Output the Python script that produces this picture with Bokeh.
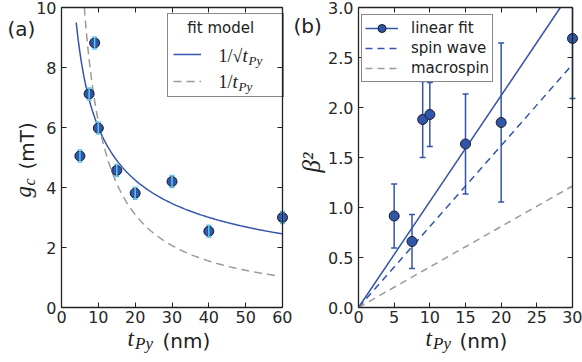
import math
import numpy as np
from bokeh.plotting import figure
from bokeh.layouts import row
from bokeh.models import (ColumnDataSource, Label, Legend, LegendItem, LinearAxis,
                          FixedTicker, NumeralTickFormatter, Range1d)
from bokeh.embed import file_html
from bokeh.resources import INLINE

# ---------------- data ----------------
# panel (a): critical field g_c (mT) vs Py thickness (nm)
T_A = [5, 7.5, 9, 10, 15, 20, 30, 40, 60]
GC = [5.05, 7.12, 8.82, 5.98, 4.57, 3.81, 4.20, 2.54, 3.00]
GC_ERR = [0.2, 0.2, 0.2, 0.2, 0.2, 0.2, 0.2, 0.2, 0.2]
# fit models: g = A/sqrt(t) and g = B/t
A_SQRT = 19.0
B_INV = 62.0
T_SQRT_RANGE = [4.0, 60.0]
T_INV_RANGE = [6.2, 58.0]

# panel (b): beta^2 vs Py thickness (nm)
T_B = [5, 7.5, 9, 10, 15, 20, 30]
BETA2 = [0.915, 0.66, 1.88, 1.93, 1.635, 1.85, 2.69]
BETA2_ERR = [0.32, 0.27, 0.38, 0.32, 0.50, 0.795, 0.60]
# straight lines through the origin: slopes
SLOPE_FIT = 0.106
SLOPE_SPINWAVE = 0.081
SLOPE_MACROSPIN = 0.0405
T_LINE_END = 30.0

A_XLIM, A_YLIM = (0, 60), (0, 10)
B_XLIM, B_YLIM = (0, 30), (0, 3)
A_X_TICKS = [0, 10, 20, 30, 40, 50, 60]
A_Y_TICKS = [0, 2, 4, 6, 8, 10]
B_X_TICKS = [0, 5, 10, 15, 20, 25, 30]
B_Y_TICKS = [0, 0.5, 1.0, 1.5, 2.0, 2.5, 3.0]

# ---------------- styling / layout ----------------
BLUE = "#3355aa"
MARK = "#2f56a8"
EDGE = "#1a1a2a"
CYAN = "#5cc8f0"
GREY = "#9a9a9a"
INK = "#222222"
FIG_H = 360
FIG_W_A, OFF_A, BOX_A = 292, 0, (61, 282, 7, 307)      # page px: left, right, top, bottom
FIG_W_B, OFF_B, BOX_B = 290, 292, (358, 572, 7, 307)
BASE_K = 0.35  # baseline correction (em)


class Mapper:
    """page pixel -> data coordinates for a figure whose frame fills the canvas"""
    def __init__(self, xlim, ylim, box, off, w, h):
        l, r, t, b = box
        self.sx = (xlim[1] - xlim[0]) / (r - l)
        self.sy = (ylim[1] - ylim[0]) / (b - t)
        self.l, self.b, self.xlim, self.ylim = l, b, xlim, ylim
        self.xr = (xlim[0] - (l - off) * self.sx, xlim[1] + (off + w - r) * self.sx)
        self.yr = (ylim[0] - (h - b) * self.sy, ylim[1] + t * self.sy)

    def x(self, px):
        return self.xlim[0] + (px - self.l) * self.sx

    def y(self, py):
        return self.ylim[0] + (self.b - py) * self.sy


def make_fig(w, m, xt, yt):
    p = figure(width=w, height=FIG_H, x_range=Range1d(*m.xr), y_range=Range1d(*m.yr),
               output_backend="svg", toolbar_location=None,
               x_axis_location=None, y_axis_location=None,
               min_border_left=0, min_border_right=0, min_border_top=0, min_border_bottom=0)
    p.xgrid.visible = False
    p.ygrid.visible = False
    p.outline_line_color = None
    p.background_fill_color = "white"
    p.border_fill_color = "white"
    specs = [("below", xt, m.ylim[0], m.xlim, True), ("above", xt, m.ylim[1], m.xlim, False),
             ("left", yt, m.xlim[0], m.ylim, True), ("right", yt, m.xlim[1], m.ylim, False)]
    axes = {}
    for loc, ticks, fixed, bounds, show in specs:
        ax = LinearAxis(ticker=FixedTicker(ticks=ticks), fixed_location=fixed, bounds=bounds,
                        major_tick_in=5, major_tick_out=0, minor_tick_line_color=None,
                        axis_line_color=INK, axis_line_width=1.3,
                        major_tick_line_color=INK, major_tick_line_width=1)
        if show:
            ax.major_label_text_font = "DejaVu Sans"
            ax.major_label_text_font_size = "16px"
            ax.major_label_text_color = "#262626"
            ax.major_label_standoff = 3 if loc == "below" else 5
        else:
            ax.major_label_text_color = None
            ax.major_label_standoff = 0
        p.add_layout(ax, loc)
        axes[loc] = ax
    return p, axes


def lab(p, m, px, py, text, size, font="DejaVu Sans", style="normal", angle=0):
    """place text with its baseline start at page pixel (px, py)"""
    if angle == 0:
        py = py - BASE_K * size
    else:
        px = px - BASE_K * size
    p.add_layout(Label(x=m.x(px), y=m.y(py), text=text, text_font=font,
                       text_font_size=f"{size}px", text_font_style=style, text_color=INK,
                       text_align="left", text_baseline="alphabetic", angle=angle,
                       angle_units="deg", level="overlay"))


NB = "\u00a0"
SERIF = "Liberation Serif"

# ================= panel (a) =================
ma = Mapper(A_XLIM, A_YLIM, BOX_A, OFF_A, FIG_W_A, FIG_H)
pa, axa = make_fig(FIG_W_A, ma, A_X_TICKS, A_Y_TICKS)

ts = np.linspace(T_SQRT_RANGE[0], T_SQRT_RANGE[1], 300)
ti = np.linspace(T_INV_RANGE[0], T_INV_RANGE[1], 300)
l_sqrt = pa.line(ts, A_SQRT / np.sqrt(ts), line_color=BLUE, line_width=1.5)
l_inv = pa.line(ti, B_INV / ti, line_color=GREY, line_width=1.5, line_dash="8 5")

src_a = ColumnDataSource(dict(x=T_A, y=GC,
                              lo=[g - e for g, e in zip(GC, GC_ERR)],
                              hi=[g + e for g, e in zip(GC, GC_ERR)]))
pa.scatter("x", "y", source=src_a, size=10, fill_color=MARK, line_color=EDGE, line_width=1)
pa.segment(x0="x", y0="lo", x1="x", y1="hi", source=src_a, line_color=CYAN, line_width=1.5)
pa.scatter("x", "lo", source=src_a, marker="dash", size=5, line_color=CYAN, line_width=1.5)
pa.scatter("x", "hi", source=src_a, marker="dash", size=5, line_color=CYAN, line_width=1.5)

LEG_A_TOP, LEG_A_H = 13.3, 84
leg_a = Legend(items=[LegendItem(label="1/√t_Py", renderers=[l_sqrt]),
                      LegendItem(label="1/t_Py", renderers=[l_inv])],
               title=NB * 3 + "fit model",
               location=(167 - OFF_A, FIG_H - LEG_A_TOP - LEG_A_H),
               padding=5, spacing=7, glyph_width=28, glyph_height=20, label_height=20,
               label_standoff=18, title_standoff=7, margin=0,
               label_text_font="DejaVu Sans", label_text_font_size="16px",
               label_text_color=None,
               title_text_font="DejaVu Sans", title_text_font_size="15px",
               title_text_font_style="normal", title_text_color=INK,
               border_line_color="#111111", border_line_width=1,
               background_fill_color="white", background_fill_alpha=0.0)
pa.add_layout(leg_a)

# legend labels in math style
lab(pa, ma, 218, 62, "1/√", 18, SERIF)
lab(pa, ma, 242, 62, "t", 19, SERIF, "italic")
lab(pa, ma, 248, 65, "Py", 13, SERIF, "italic")
lab(pa, ma, 218, 88, "1/", 18, SERIF)
lab(pa, ma, 232, 88, "t", 19, SERIF, "italic")
lab(pa, ma, 238, 91, "Py", 13, SERIF, "italic")

# axis labels and panel tag
lab(pa, ma, 127, 346.5, "t", 23, SERIF, "italic")
lab(pa, ma, 134.5, 349, "Py", 17, SERIF, "italic")
lab(pa, ma, 162, 347, "(nm)", 20)
lab(pa, ma, 31, 197, "g", 23, SERIF, "italic", angle=90)
lab(pa, ma, 35, 185, "c", 16, SERIF, "italic", angle=90)
lab(pa, ma, 33, 169, "(mT)", 20, angle=90)
lab(pa, ma, 7, 35, "(a)", 20)

# ================= panel (b) =================
mb = Mapper(B_XLIM, B_YLIM, BOX_B, OFF_B, FIG_W_B, FIG_H)
pb, axb = make_fig(FIG_W_B, mb, B_X_TICKS, B_Y_TICKS)
axb["left"].formatter = NumeralTickFormatter(format="0.0")
YTOP = B_YLIM[1]


def line_through_origin(slope):
    x_end = min(T_LINE_END, YTOP / slope)
    return [0.0, x_end], [0.0, slope * x_end]


xf, yf = line_through_origin(SLOPE_FIT)
xs, ys = line_through_origin(SLOPE_SPINWAVE)
xm, ym = line_through_origin(SLOPE_MACROSPIN)
l_fit = pb.line(xf, yf, line_color=BLUE, line_width=1.5)
l_sw = pb.line(xs, ys, line_color=BLUE, line_width=1.5, line_dash="7 5")
l_ms = pb.line(xm, ym, line_color=GREY, line_width=1.5, line_dash="7 5")

hi_b = [b + e for b, e in zip(BETA2, BETA2_ERR)]
src_b = ColumnDataSource(dict(x=T_B, y=BETA2,
                              lo=[b - e for b, e in zip(BETA2, BETA2_ERR)],
                              hi=[min(h, YTOP) for h in hi_b],
                              hicap=[h if h <= YTOP else math.nan for h in hi_b]))
pb.segment(x0="x", y0="lo", x1="x", y1="hi", source=src_b, line_color=BLUE, line_width=1.5)
pb.scatter("x", "lo", source=src_b, marker="dash", size=6, line_color=BLUE, line_width=1.5)
pb.scatter("x", "hicap", source=src_b, marker="dash", size=6, line_color=BLUE, line_width=1.5)
c_b = pb.scatter("x", "y", source=src_b, size=10, fill_color=MARK, line_color=EDGE, line_width=1)

LEG_B_TOP, LEG_B_H = 11.7, 70
leg_b = Legend(items=[LegendItem(label="linear fit", renderers=[l_fit, c_b]),
                      LegendItem(label="spin wave", renderers=[l_sw]),
                      LegendItem(label="macrospin", renderers=[l_ms])],
               location=(361 - OFF_B, FIG_H - LEG_B_TOP - LEG_B_H),
               padding=3, spacing=0, glyph_width=33, glyph_height=20,
               label_height=20, label_standoff=13, margin=0,
               label_text_font="DejaVu Sans", label_text_font_size="15px",
               label_text_color=INK,
               border_line_color="#111111", border_line_width=1,
               background_fill_color="white", background_fill_alpha=1.0)
pb.add_layout(leg_b)

lab(pb, mb, 425, 346.5, "t", 23, SERIF, "italic")
lab(pb, mb, 432.5, 349, "Py", 17, SERIF, "italic")
lab(pb, mb, 459, 347, "(nm)", 20)
lab(pb, mb, 320, 172, "β²", 25, SERIF, "italic", angle=90)
lab(pb, mb, 293, 32.5, "(b)", 20)

layout = row(pa, pb)
open("out.html", "w").write(file_html(layout, INLINE))
